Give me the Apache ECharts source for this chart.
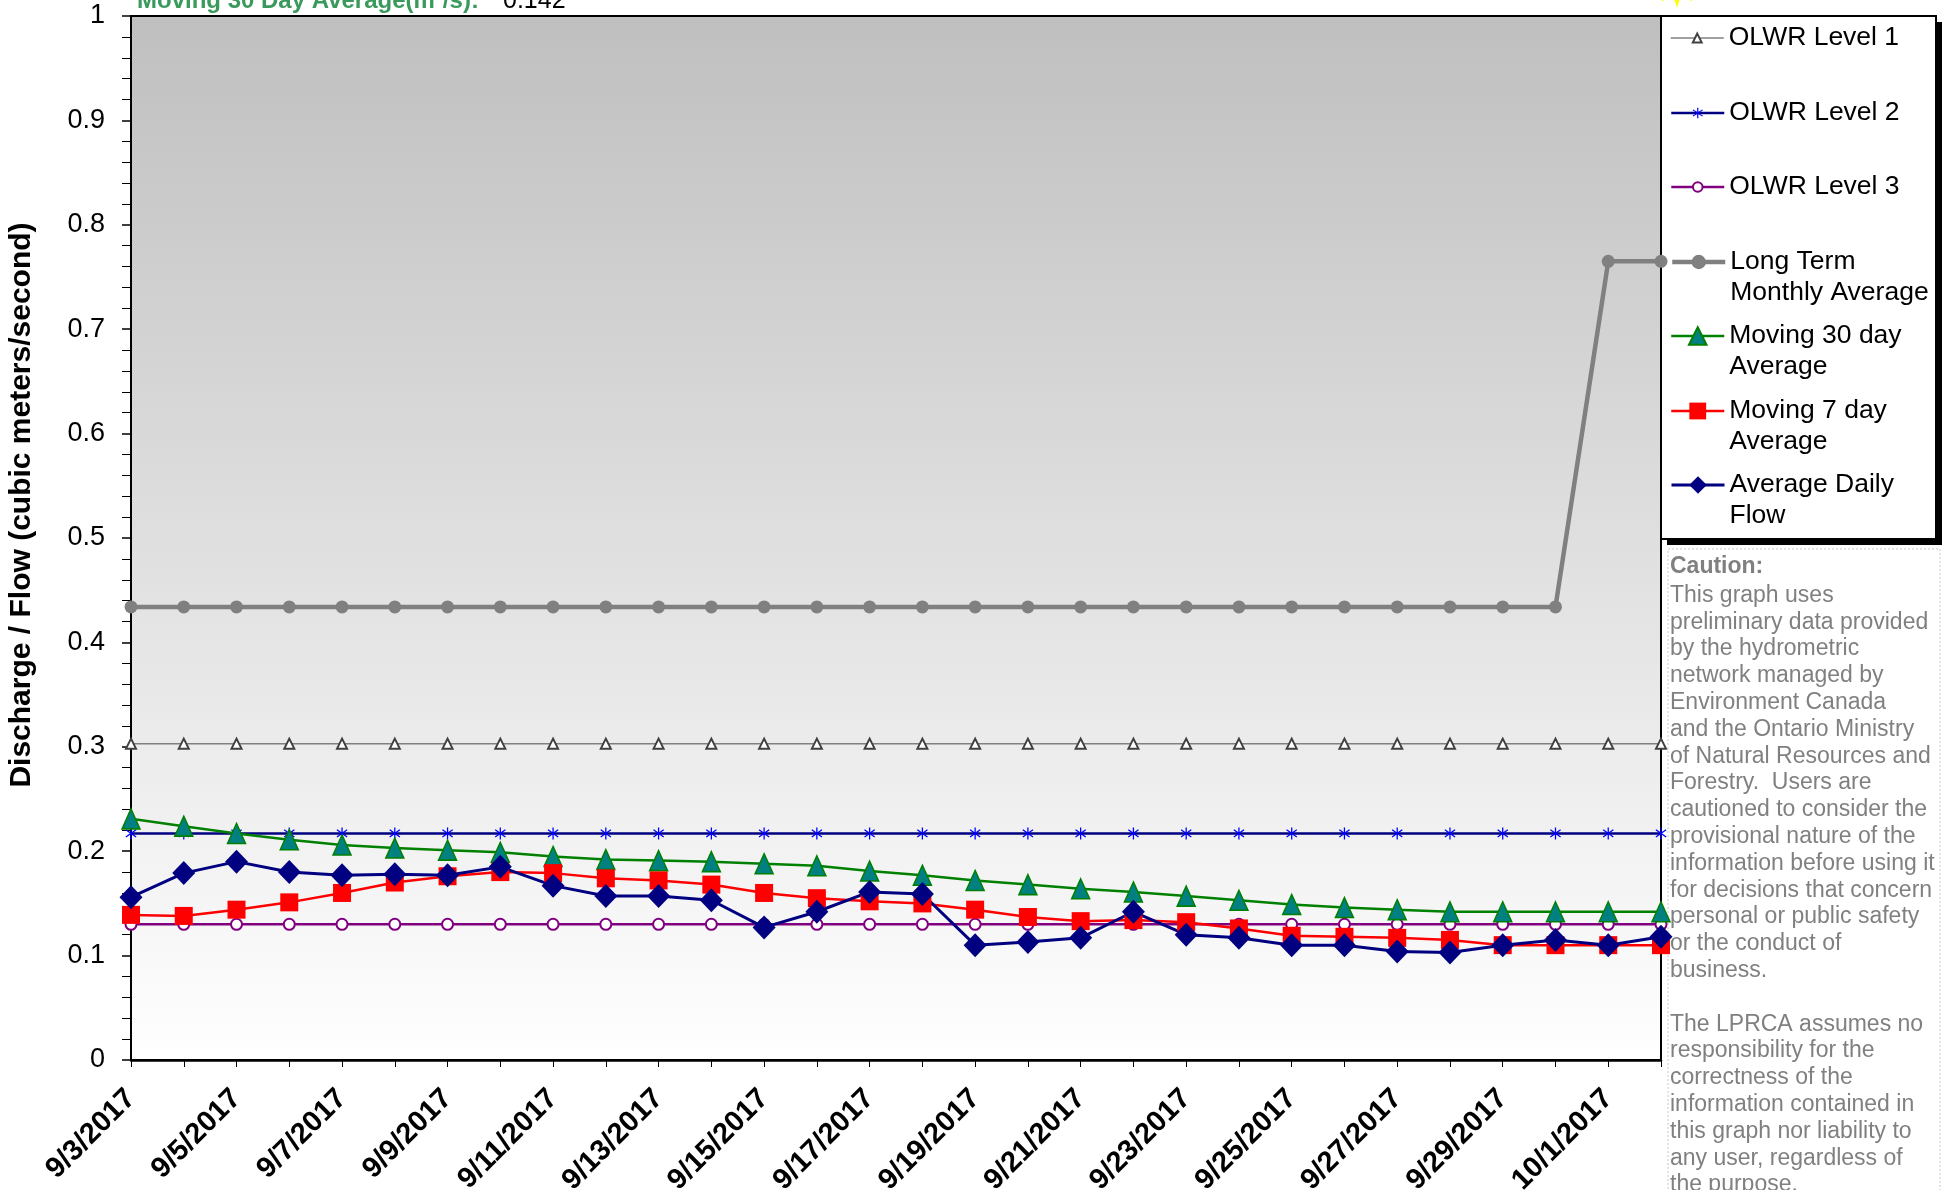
<!DOCTYPE html>
<html>
<head>
<meta charset="utf-8">
<title>Discharge / Flow</title>
<script src="https://cdn.jsdelivr.net/npm/echarts@6/dist/echarts.min.js"></script>
<style>
  html, body { margin: 0; padding: 0; background: #fff; }
  #main { width: 1944px; height: 1190px; }
</style>
</head>
<body>
<div id="main"></div>
<script>
// categories (one per day)
var dates = [
  '9/3/2017', '9/4/2017', '9/5/2017', '9/6/2017', '9/7/2017', '9/8/2017', '9/9/2017', '9/10/2017',
  '9/11/2017', '9/12/2017', '9/13/2017', '9/14/2017', '9/15/2017', '9/16/2017', '9/17/2017', '9/18/2017',
  '9/19/2017', '9/20/2017', '9/21/2017', '9/22/2017', '9/23/2017', '9/24/2017', '9/25/2017', '9/26/2017',
  '9/27/2017', '9/28/2017', '9/29/2017', '9/30/2017', '10/1/2017', '10/2/2017'
];

// series values (m3/s)
var olwrLevel1 = [0.303, 0.303, 0.303, 0.303, 0.303, 0.303, 0.303, 0.303, 0.303, 0.303,
  0.303, 0.303, 0.303, 0.303, 0.303, 0.303, 0.303, 0.303, 0.303, 0.303,
  0.303, 0.303, 0.303, 0.303, 0.303, 0.303, 0.303, 0.303, 0.303, 0.303];
var olwrLevel2 = [0.217, 0.217, 0.217, 0.217, 0.217, 0.217, 0.217, 0.217, 0.217, 0.217,
  0.217, 0.217, 0.217, 0.217, 0.217, 0.217, 0.217, 0.217, 0.217, 0.217,
  0.217, 0.217, 0.217, 0.217, 0.217, 0.217, 0.217, 0.217, 0.217, 0.217];
var olwrLevel3 = [0.130, 0.130, 0.130, 0.130, 0.130, 0.130, 0.130, 0.130, 0.130, 0.130,
  0.130, 0.130, 0.130, 0.130, 0.130, 0.130, 0.130, 0.130, 0.130, 0.130,
  0.130, 0.130, 0.130, 0.130, 0.130, 0.130, 0.130, 0.130, 0.130, 0.130];
var longTermAvg = [0.434, 0.434, 0.434, 0.434, 0.434, 0.434, 0.434, 0.434, 0.434, 0.434,
  0.434, 0.434, 0.434, 0.434, 0.434, 0.434, 0.434, 0.434, 0.434, 0.434,
  0.434, 0.434, 0.434, 0.434, 0.434, 0.434, 0.434, 0.434, 0.765, 0.765];
var moving30 = [0.231, 0.224, 0.217, 0.211, 0.206, 0.203, 0.201, 0.199, 0.195, 0.192,
  0.191, 0.190, 0.188, 0.186, 0.181, 0.177, 0.172, 0.168, 0.164, 0.161,
  0.157, 0.153, 0.149, 0.146, 0.144, 0.142, 0.142, 0.142, 0.142, 0.142];
var moving7 = [0.139, 0.138, 0.144, 0.151, 0.160, 0.170, 0.176, 0.180, 0.179, 0.174,
  0.172, 0.168, 0.160, 0.155, 0.152, 0.150, 0.144, 0.137, 0.133, 0.134,
  0.132, 0.126, 0.119, 0.118, 0.117, 0.115, 0.110, 0.110, 0.110, 0.110];
var dailyFlow = [0.156, 0.179, 0.190, 0.180, 0.177, 0.178, 0.177, 0.185, 0.167, 0.157,
  0.157, 0.153, 0.127, 0.142, 0.161, 0.159, 0.110, 0.113, 0.117, 0.142,
  0.120, 0.117, 0.110, 0.110, 0.104, 0.103, 0.110, 0.115, 0.110, 0.118];

var cautionLines = [
  'This graph uses', 'preliminary data provided', 'by the hydrometric', 'network managed by',
  'Environment Canada', 'and the Ontario Ministry', 'of Natural Resources and', 'Forestry.  Users are',
  'cautioned to consider the', 'provisional nature of the', 'information before using it',
  'for decisions that concern', 'personal or public safety', 'or the conduct of', 'business.', '',
  'The LPRCA assumes no', 'responsibility for the', 'correctness of the', 'information contained in',
  'this graph nor liability to', 'any user, regardless of', 'the purpose.'
];

var FONT = '"Liberation Sans", Arial, sans-serif';
var asterisk = 'path://M-1,-10L1,-10L1,10L-1,10Z M-8.6,-5.2L-7.4,-6.8L8.6,5.2L7.4,6.8Z M-7.4,6.8L-8.6,5.2L7.4,-6.8L8.6,-5.2Z';

var chart = echarts.init(document.getElementById('main'));

// one legend box per entry so the spacing matches the original
var legendRows = [
  { name: 'OLWR Level 1', y: 38, h: 11 },
  { name: 'OLWR Level 2', y: 113, h: 13 },
  { name: 'OLWR Level 3', y: 187, h: 12 },
  { name: 'Long Term Monthly Average', y: 262, h: 18, text: 'Long Term\nMonthly Average' },
  { name: 'Moving 30 day Average', y: 336, h: 22, text: 'Moving 30 day\nAverage' },
  { name: 'Moving 7 day Average', y: 411, h: 21, text: 'Moving 7 day\nAverage' },
  { name: 'Average Daily Flow', y: 485, h: 22, text: 'Average Daily\nFlow' }
];
var legends = legendRows.map(function (r) {
  return {
    data: [r.name],
    orient: 'vertical',
    left: 1670,
    top: r.text ? r.y - 46.5 : r.y - 15.5,
    padding: 0,
    itemWidth: 53,
    itemHeight: r.h,
    selectedMode: false,
    lineStyle: { width: 'inherit' },
    formatter: function () { return r.text ? ' \n' + r.text : r.name; },
    textStyle: { fontSize: 26.5, lineHeight: 31, color: '#000', fontFamily: FONT }
  };
});

// yellow ornament clipped at the top edge
var star = [];
for (var i = 0; i < 16; i++) {
  var rr = i % 2 === 0 ? 22 : 10;
  var a = Math.PI * i / 8;
  star.push([1677 + rr * Math.sin(a), -14 + rr * Math.cos(a)]);
}

var option = {
  animation: false,
  backgroundColor: '#fff',
  textStyle: { fontFamily: FONT },
  grid: {
    left: 131, right: 283, top: 16, bottom: 130,
    containLabel: false,
    outerBoundsMode: 'none',
    show: true,
    backgroundColor: new echarts.graphic.LinearGradient(0, 0, 0, 1, [
      { offset: 0, color: '#bfbfbf' },
      { offset: 1, color: '#ffffff' }
    ]),
    borderColor: '#000',
    borderWidth: 2
  },
  legend: legends,
  xAxis: {
    type: 'category',
    data: dates,
    boundaryGap: false,
    axisLine: { lineStyle: { color: '#000', width: 2.5 } },
    axisTick: { show: true, interval: 0, length: 7, lineStyle: { color: '#000', width: 1 } },
    axisLabel: {
      interval: 1, rotate: 45, margin: 34,
      fontSize: 29, fontWeight: 'bold', color: '#000', fontFamily: FONT
    },
    splitLine: { show: false }
  },
  yAxis: {
    type: 'value',
    min: 0, max: 1, interval: 0.1,
    axisLine: { show: true, lineStyle: { color: '#000', width: 2 } },
    axisTick: { show: true, length: 9, lineStyle: { color: '#000', width: 1.5 } },
    minorTick: { show: true, splitNumber: 5, length: 9, lineStyle: { color: '#000', width: 1 } },
    splitLine: { show: false },
    axisLabel: { fontSize: 27, color: '#000', margin: 26, fontFamily: FONT },
    name: 'Discharge / Flow (cubic meters/second)',
    nameLocation: 'middle',
    nameRotate: 90,
    nameGap: 94,
    nameTextStyle: { fontSize: 30, fontWeight: 'bold', color: '#000', fontFamily: FONT, padding: [0, 0, 0, 66] }
  },
  series: [
    {
      name: 'OLWR Level 1', type: 'line', data: olwrLevel1,
      symbol: 'emptyTriangle', symbolSize: 10, showAllSymbol: true,
      itemStyle: { color: '#404040' },
      lineStyle: { color: '#808080', width: 1.5 }
    },
    {
      name: 'OLWR Level 2', type: 'line', data: olwrLevel2,
      symbol: asterisk, symbolSize: [11, 12], showAllSymbol: true,
      itemStyle: { color: '#0000ff' },
      lineStyle: { color: '#000080', width: 2.5 }
    },
    {
      name: 'OLWR Level 3', type: 'line', data: olwrLevel3,
      symbol: 'emptyCircle', symbolSize: 11, showAllSymbol: true,
      itemStyle: { color: '#800080' },
      lineStyle: { color: '#800080', width: 2.5 }
    },
    {
      name: 'Long Term Monthly Average', type: 'line', data: longTermAvg,
      symbol: 'circle', symbolSize: 13, showAllSymbol: true,
      itemStyle: { color: '#808080' },
      lineStyle: { color: '#808080', width: 4.5 }
    },
    {
      name: 'Moving 30 day Average', type: 'line', data: moving30,
      symbol: 'triangle', symbolSize: [18, 20], showAllSymbol: true,
      itemStyle: { color: '#008080', borderColor: '#008000', borderWidth: 1.5 },
      lineStyle: { color: '#008000', width: 2.5 }
    },
    {
      name: 'Moving 7 day Average', type: 'line', data: moving7,
      symbol: 'rect', symbolSize: 18, showAllSymbol: true,
      itemStyle: { color: '#ff0000' },
      lineStyle: { color: '#ff0000', width: 2.5 }
    },
    {
      name: 'Average Daily Flow', type: 'line', data: dailyFlow,
      symbol: 'diamond', symbolSize: [23, 24], showAllSymbol: true,
      itemStyle: { color: '#000080' },
      lineStyle: { color: '#000080', width: 3 }
    }
  ],
  graphic: [
    // legend frame with its drop shadow
    { type: 'rect', z: 1, shape: { x: 1667, y: 22, width: 275, height: 523 }, style: { fill: '#000' } },
    { type: 'rect', z: 1, shape: { x: 1661, y: 16, width: 275, height: 523 }, style: { fill: '#fff', stroke: '#000', lineWidth: 2 } },
    // caution box
    { type: 'rect', z: 1, shape: { x: 1668, y: 549, width: 272, height: 660 }, style: { fill: 'none', stroke: '#c8c8c8', lineWidth: 1, lineDash: [2, 2] } },
    { type: 'text', z: 2, x: 1670, y: 555, style: { text: 'Caution:', fill: '#808080', font: 'bold 23px ' + FONT } },
    { type: 'text', z: 2, x: 1670, y: 582, style: { text: cautionLines.join('\n'), fill: '#808080', font: '23px ' + FONT, lineHeight: 26.8 } },
    // header text, mostly cut off by the top edge
    { type: 'text', z: 2, x: 137, y: 1, style: { text: 'Moving 30 Day Average(m\u00b3/s):', fill: '#3a9a5c', font: 'bold 24px ' + FONT, verticalAlign: 'middle' } },
    { type: 'text', z: 2, x: 503, y: 1, style: { text: '0.142', fill: '#000', font: '25px ' + FONT, verticalAlign: 'middle' } },
    { type: 'polygon', z: 2, shape: { points: star }, style: { fill: '#ffff00' } }
  ]
};

chart.setOption(option);
</script>
</body>
</html>
